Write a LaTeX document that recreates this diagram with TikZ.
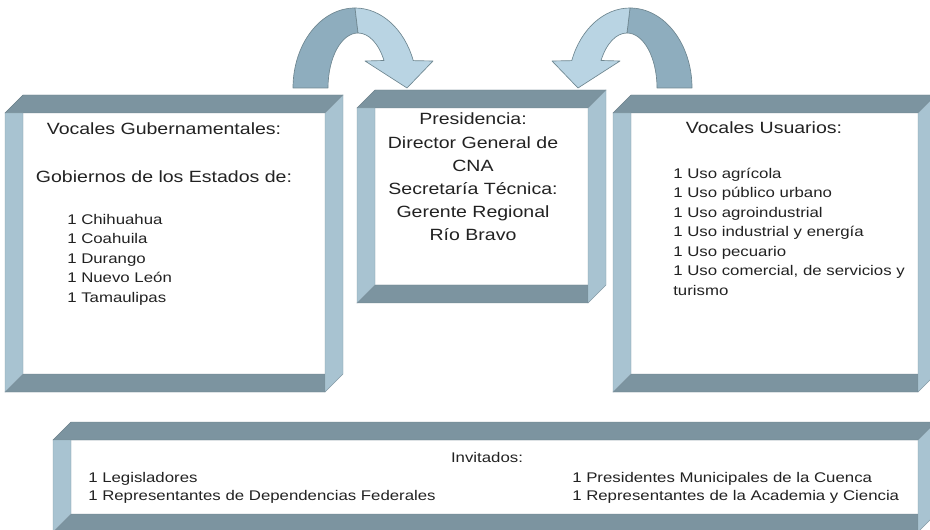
\documentclass[tikz,border=0pt]{standalone}
\usepackage{fontspec}
\setmainfont{Liberation Sans}
\newfontfamily\widesans[FakeStretch=1.2]{Liberation Sans}
\usetikzlibrary{positioning, calc}
\definecolor{bevdark}{HTML}{7C94A0}
\definecolor{bevlight}{HTML}{A8C3D1}
\definecolor{arrlight}{HTML}{B9D4E3}
\definecolor{arrdark}{HTML}{8EADBE}
\definecolor{edgegray}{HTML}{6F8791}
\definecolor{txtgray}{HTML}{222222}
\tikzset{
  bevtop/.style={fill=bevdark, draw=bevdark!85!black, line width=0.3pt},
  bevside/.style={fill=bevlight, draw=bevlight!80!black, line width=0.3pt},
  arrpart/.style={draw=edgegray, line width=0.5pt, line join=round},
  headtext/.style={font=\widesans\fontsize{12.2}{17.4}\selectfont, text=txtgray,
    inner sep=0pt, anchor=base},
  listtext/.style={font=\widesans\fontsize{10.5}{14.6}\selectfont, text=txtgray,
    inner sep=0pt, anchor=base west},
}

\begin{document}
\begin{tikzpicture}[x=0.75pt,y=-0.75pt]
  \useasboundingbox (0,0) rectangle (930,530);
  \clip (0,0) rectangle (930,530);
  % Rahmen: Name / links / oben / rechts / unten, Tiefe 18
  \foreach \nm/\xa/\ya/\xb/\yb in {gob/5/95/343/392,pres/357/90/606/303,
      usu/613/95/936/392,inv/53/422/936/532} {
    \fill[white] (\xa+18,\ya+18) rectangle (\xb-18,\yb-18);
    \draw[bevtop] (\xa,\ya+18) -- (\xa+18,\ya) -- (\xb,\ya) -- (\xb-18,\ya+18) -- cycle;
    \draw[bevtop] (\xa,\yb) -- (\xa+18,\yb-18) -- (\xb-18,\yb-18) -- (\xb-18,\yb) -- cycle;
    \draw[bevside] (\xa,\ya+18) -- (\xa+18,\ya+18) -- (\xa+18,\yb-18) -- (\xa,\yb) -- cycle;
    \draw[bevside] (\xb,\ya) -- (\xb,\yb-18) -- (\xb-18,\yb) -- (\xb-18,\ya+18) -- cycle;
    \coordinate (\nm-nw) at (\xa+18,\ya+18);
    \coordinate (\nm-se) at (\xb-18,\yb-18);
  }
  % gebogene Pfeile zur Mitte, rechter gespiegelt
  \foreach \s/\off in {1/0,-1/985} {
    \begin{scope}[shift={(\off,0)}, xscale=\s]
      \draw[arrpart, fill=arrdark] (293,88) arc[start angle=180, end angle=270, x radius=62, y radius=80]
        -- (358,33) arc[start angle=270, end angle=180, x radius=30, y radius=55] -- cycle;
      \draw[arrpart, fill=arrlight] (355,8) arc[start angle=270, end angle=340, x radius=62, y radius=80]
        -- (433,61) -- (407,88) -- (365,61)
        -- (384,60.5) arc[start angle=330, end angle=270, x radius=30, y radius=55] -- cycle;
    \end{scope}
  }
  % Texte
  \node[headtext] (gobhead) at (164,135) {Vocales Gubernamentales:};
  \node[headtext] (gobsub) at (164,183) {Gobiernos de los Estados de:};
  \foreach \t [count=\i from 0] in {1 Chihuahua,1 Coahuila,1 Durango,1 Nuevo León,1 Tamaulipas}
    \node[listtext] (gob-\i) at (67,224.5+19.5*\i) {\t};
  \foreach \t [count=\i from 0] in {Presidencia:,Director General de,CNA,Secretaría Técnica:,
      Gerente Regional,Río Bravo}
    \node[headtext] (pres-\i) at (473,125+23.2*\i) {\t};
  \node[headtext] (usuhead) at (764,134) {Vocales Usuarios:};
  \foreach \t [count=\i from 0] in {1 Uso agrícola,1 Uso público urbano,1 Uso agroindustrial,
      1 Uso industrial y energía,1 Uso pecuario,{1 Uso comercial, de servicios y}}
    \node[listtext] (usu-\i) at (673,178.5+19.5*\i) {\t};
  \node[listtext] (usu-6) at (673,295.5) {turismo};
  \node[headtext, font=\widesans\fontsize{10.5}{14.6}\selectfont] (invhead) at (487,462) {Invitados:};
  \node[listtext] (inv-1) at (88,482) {1 Legisladores};
  \node[listtext] (inv-2) at (88,500) {1 Representantes de Dependencias Federales};
  \node[listtext] (inv-3) at (572,482) {1 Presidentes Municipales de la Cuenca};
  \node[listtext] (inv-4) at (572,500) {1 Representantes de la Academia y Ciencia};
\end{tikzpicture}
\end{document}
